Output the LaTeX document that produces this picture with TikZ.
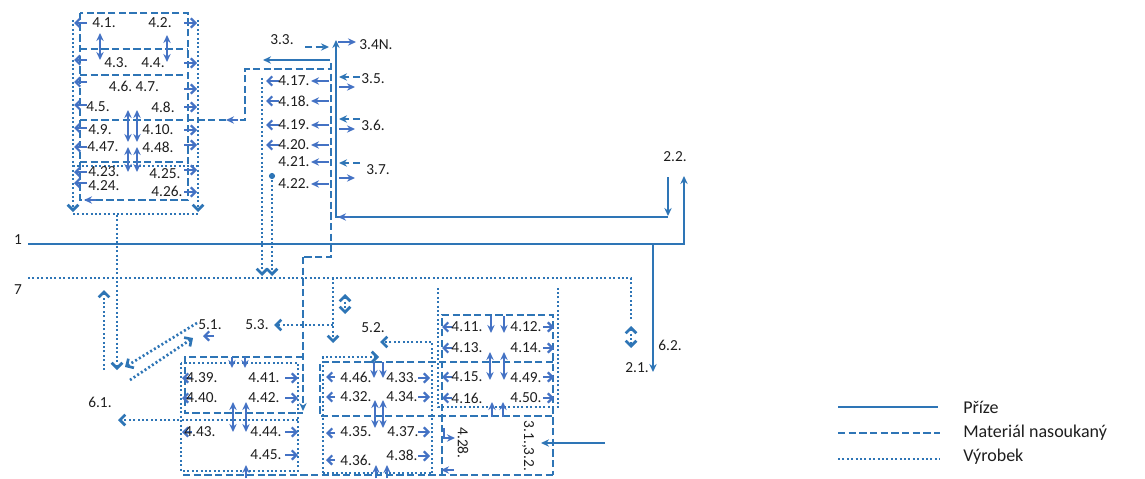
\documentclass[tikz,border=0pt]{standalone}
\usepackage{fontspec}
\setmainfont{Carlito}
\usetikzlibrary{arrows.meta}
\definecolor{c1}{RGB}{46,117,182}
\definecolor{c2}{RGB}{68,114,196}
\definecolor{tx}{RGB}{30,30,30}
\begin{document}
\begin{tikzpicture}[x=0.75pt,y=-0.75pt,
  pr/.style={c1,line width=1.5pt},
  mat/.style={c1,line width=2.2pt,dash pattern=on 5.5pt off 2.5pt},
  vyr/.style={c1,line width=2pt,dash pattern=on 1.5pt off 1.8pt},
  tipA/.style={-{Stealth[length=6pt,width=5.5pt]}},
  vtip/.style={-{Straight Barb[length=4pt,width=8pt]}},
  vdtip/.style={{Straight Barb[length=4pt,width=8pt]}-{Straight Barb[length=4pt,width=8pt]}},
  ar/.style={c2,line width=1.4pt,tipA},
  dar/.style={c2,line width=1.4pt,{Stealth[length=6pt,width=5.5pt]}-{Stealth[length=6pt,width=5.5pt]}},
  ob/.style={c2,line width=1.7pt,-{Straight Barb[length=3.5pt,width=7pt]}},
  lb/.style={tx,font=\fontsize{11.5}{13}\selectfont,inner sep=0pt},
  lg/.style={tx,font=\fontsize{13.5}{15}\selectfont,inner sep=0pt,anchor=west},
]
\useasboundingbox (0,0) rectangle (1145,478);

% ---------- top-left block ----------
\draw[vyr,vtip] (73,20) -- (73,212);
\draw[vyr,vtip] (198,20) -- (198,212);
\draw[vyr] (73,214) -- (198,214);
\draw[vyr] (73,166) -- (198,166);
\draw[mat] (80,13) rectangle (188,200);
\foreach \y in {49,75,162} \draw[mat] (80,\y) -- (188,\y);
\draw[mat] (80,120) -- (245,120) -- (245,69) -- (331,69);
\draw[ar] (238,120) -- (226,120);
\draw[ar] (96,200) -- (84,200);
\foreach \y in {23,60,82,105,128,147,172,183} \draw[ob] (87,\y) -- (74,\y);
\foreach \y in {23,63,89,107,130,145,170,192} \draw[ob] (184,\y) -- (197,\y);
\draw[dar] (100,33) -- (100,60);
\draw[dar] (167,35) -- (167,62);
\draw[dar] (128,110) -- (128,142);
\draw[dar] (137,110) -- (137,142);
\draw[dar] (128,147) -- (128,172);
\draw[dar] (137,147) -- (137,172);
\foreach \x/\y/\t [count=\i] in {104/23/4.1., 160/23/4.2., 116/63/4.3., 153/63/4.4.,
  134/86/{4.6.\ 4.7.}, 98/107/4.5., 163/107/4.8., 100/130/4.9., 158/130/4.10.,
  103/147/4.47., 158/147/4.48., 104/172/4.23., 165/174/4.25., 104/186/4.24., 167/191/4.26.}
  \node[lb] (tl\i) at (\x,\y) {\t};

% ---------- central column ----------
\draw[pr,tipA] (668,177) -- (668,216);
\draw[pr,tipA] (668,217) -- (336,217) -- (336,40);
\draw[ar] (350,217) -- (338,217);
\draw[mat] (331,63) -- (331,257) -- (303,257);
\draw[mat,tipA] (303,257) -- (303,411);
\draw[pr,tipA] (330,60) -- (263,60);
\draw[mat,tipA] (305,47) -- (329,47);
\draw[ar] (338,42) -- (356,42);
\node[lb] (l33) at (282,40) {3.3.};
\node[lb] (l34) at (376,45) {3.4N.};
\foreach \y in {81,101,125,145,162,184} \draw[ar] (329,\y) -- (311,\y);
\foreach \y in {81,101,125,145} \draw[ob] (279,\y) -- (266,\y);
\foreach \y/\t [count=\i] in {81/4.17., 101/4.18., 125/4.19., 145/4.20., 162/4.21., 184/4.22.}
  \node[lb] (cl\i) at (294,\y) {\t};
\draw[mat,tipA] (360,77) -- (339,77);  \draw[ar] (339,87) -- (355,87);
\draw[mat,tipA] (360,119) -- (339,119); \draw[ar] (339,129) -- (355,129);
\draw[mat,tipA] (360,163) -- (339,163); \draw[ar] (339,178) -- (355,178);
\node[lb] (l35) at (373,79) {3.5.};
\node[lb] (l36) at (373,125) {3.6.};
\node[lb] (l37) at (378,170) {3.7.};
\draw[vyr,vtip] (262,78) -- (262,276);
\draw[vyr,vtip] (272,176) -- (272,276);
\fill[c1] (272,176) circle (2.3pt);

% ---------- main lines 1 and 7 ----------
\draw[pr,tipA] (28,244) -- (684,244) -- (684,176);
\draw[pr,tipA] (653,244) -- (653,372);
\node[lb] (l1) at (18,240) {1};
\node[lb] (l22) at (675,157) {2.2.};
\node[lb] (l62) at (670,345) {6.2.};
\node[lb] (l21) at (637,368) {2.1.};
\draw[vyr] (28,278) -- (631,278) -- (631,320);
\draw[vyr,vdtip] (631,326) -- (631,348);
\node[lb] (l7) at (18,290) {7};

% ---------- left lower ----------
\draw[vyr,vtip] (117,215) -- (117,370);
\draw[vyr,vtip] (104,370) -- (104,290);
\draw[vyr,vtip] (197,323) -- (125,367);
\draw[vyr,vtip] (130,380) -- (193,338);
\draw[ob] (214,336) -- (203,336);
\node[lb] (l51) at (210,325) {5.1.};
\node[lb] (l61) at (100,402) {6.1.};
\draw[vyr,vtip] (298,420) -- (118,420);
\draw[vyr,vtip] (333,278) -- (333,343);
\draw[vyr,vtip] (333,325) -- (274,325);
\node[lb] (l53) at (257,325) {5.3.};
\draw[vyr,vdtip] (345,294) -- (345,314);
\draw[vyr,vtip] (432,473) -- (432,342) -- (380,342);
\node[lb] (l52) at (373,328) {5.2.};

% ---------- group A ----------
\draw[vyr] (181,363) rectangle (298,471);
\draw[mat] (303,357) -- (185,357) -- (185,413) -- (303,413);
\foreach \y in {378,398,432} \draw[ob] (192,\y) -- (182,\y);
\foreach \y in {378,398,432,455} \draw[ob] (285,\y) -- (298,\y);
\draw[ar] (232,357) -- (232,368);
\draw[ar] (245,357) -- (245,368);
\draw[dar] (233,402) -- (233,432);
\draw[dar] (246,402) -- (246,432);
\draw[ar] (246,478) -- (246,465);
\foreach \x/\y/\t [count=\i] in {202/378/4.39., 264/378/4.41., 202/398/4.40., 264/398/4.42.,
  200/432/4.43., 266/432/4.44., 266/455/4.45.}
  \node[lb] (ga\i) at (\x,\y) {\t};

% ---------- group B ----------
\draw[vyr,vtip] (323,473) -- (323,357) -- (379,357);
\draw[vyr] (323,473) -- (432,473);
\draw[mat] (553,362) -- (320,362) -- (320,416) -- (553,416);
\foreach \y in {377,397,433,460} \draw[ob] (335,\y) -- (326,\y);
\foreach \y in {378,397,432,456} \draw[ob] (418,\y) -- (430,\y);
\draw[ar] (374,362) -- (374,378);
\draw[ar] (383,362) -- (383,378);
\draw[dar] (375,400) -- (375,428);
\draw[dar] (383,400) -- (383,428);
\draw[ar] (376,478) -- (376,465);
\draw[ar] (387,478) -- (387,465);
\foreach \x/\y/\t [count=\i] in {356/377/4.46., 402/378/4.33., 356/397/4.32., 402/397/4.34.,
  356/432/4.35., 403/432/4.37., 356/460/4.36., 402/455/4.38.}
  \node[lb] (gb\i) at (\x,\y) {\t};

% ---------- group C ----------
\draw[vyr] (438,288) -- (438,407) -- (558,407) -- (558,288);
\draw[mat] (442,475) -- (442,315) -- (553,315) -- (553,475);
\draw[mat] (183,475) -- (553,475);
\foreach \y in {327,348,377,398} \draw[ob] (452,\y) -- (442,\y);
\foreach \y in {327,348,377,398} \draw[ob] (543,\y) -- (554,\y);
\draw[ar] (491,316) -- (491,333);
\draw[ar] (504,316) -- (504,333);
\draw[dar] (490,352) -- (490,380);
\draw[dar] (504,352) -- (504,380);
\draw[ar] (492,417) -- (492,402);
\draw[ar] (503,417) -- (503,402);
\foreach \x/\y/\t [count=\i] in {467/327/4.11., 526/327/4.12., 467/348/4.13., 526/348/4.14.,
  467/377/4.15., 526/378/4.49., 467/398/4.16., 526/398/4.50.}
  \node[lb] (gc\i) at (\x,\y) {\t};
\node[lb,rotate=-90] (l428) at (463,443) {4.28.};
\node[lb,rotate=-90] (l31) at (528,446) {3.1.,3.2.};
\draw[ar] (444,428) |- (455,438);
\draw[pr,tipA] (605,443) -- (541,443);
\draw[ar] (454,470) -- (441,470);

% ---------- legend ----------
\draw[pr] (838,407) -- (938,407);
\draw[mat] (838,433) -- (940,433);
\draw[vyr] (838,459) -- (940,459);
\node[lg] (lg1) at (963,407) {Příze};
\node[lg] (lg2) at (963,433) {Materiál nasoukaný};
\node[lg] (lg3) at (963,457) {Výrobek};
\end{tikzpicture}
\end{document}
